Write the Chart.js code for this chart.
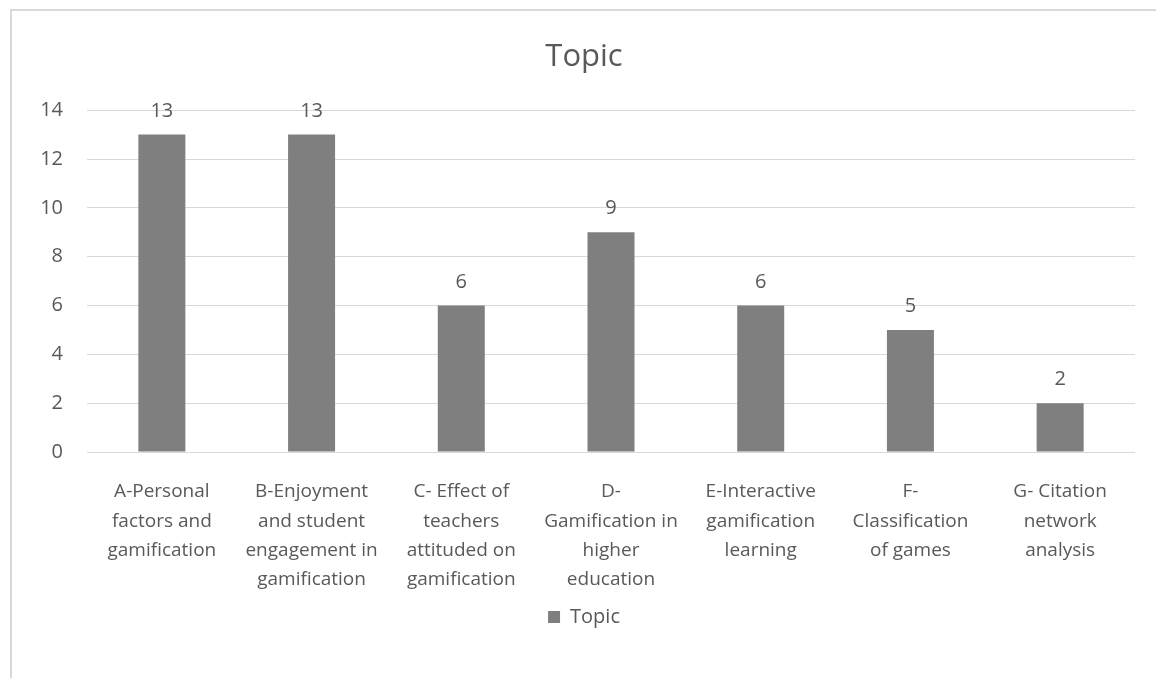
<!DOCTYPE HTML>
<html lang="en">
<head>
<meta charset="UTF-8">
<title>Topic</title>
<script src="https://cdn.jsdelivr.net/npm/chart.js@4.4.0/dist/chart.umd.min.js"></script>
<style>
  html, body { margin: 0; padding: 0; background: #fff; }
  #frame {
    position: absolute; left: 10px; top: 9px;
    width: 1146px; height: 669px;
    border-top: 2px solid #d9d9d9; border-left: 2px solid #d9d9d9;
    box-sizing: border-box;
  }
  #box { position: absolute; left: 0; top: 0; width: 1144px; height: 667px; }
</style>
</head>
<body>
<div id="frame">
  <div id="box"><canvas id="mychart"></canvas></div>
</div>

<script>
// topics and paper counts
var topics = [
    ['A-Personal', 'factors and', 'gamification'],
    ['B-Enjoyment', 'and student', 'engagement in', 'gamification'],
    ['C- Effect of', 'teachers', 'attituded on', 'gamification'],
    ['D-', 'Gamification in', 'higher', 'education'],
    ['E-Interactive', 'gamification', 'learning'],
    ['F-', 'Classification', 'of games'],
    ['G- Citation', 'network', 'analysis']
];
var counts = [13, 13, 6, 9, 6, 5, 2];
var yTicks = [0, 2, 4, 6, 8, 10, 12, 14];

var textColor = '#595959';
var fontFamily = '"Open Sans", Lato, sans-serif';

// value labels above each bar
var barValues = {
    id: 'barValues',
    afterDatasetsDraw: function(chart) {
        var ctx = chart.ctx;
        ctx.save();
        ctx.font = '20px ' + fontFamily;
        ctx.fillStyle = textColor;
        ctx.textAlign = 'center';
        ctx.textBaseline = 'alphabetic';
        chart.getDatasetMeta(0).data.forEach(function(bar, i) {
            ctx.fillText(String(chart.data.datasets[0].data[i]), bar.x, bar.y - 18);
        });
        ctx.restore();
    }
};

Chart.defaults.font.family = fontFamily;
Chart.defaults.color = textColor;

var chart = new Chart(document.getElementById('mychart'), {
    type: 'bar',
    data: {
        labels: topics,
        datasets: [{
            label: 'Topic',
            data: counts,
            backgroundColor: '#7f7f7f',
            categoryPercentage: 1,
            barPercentage: 0.314
        }]
    },
    options: {
        responsive: true,
        maintainAspectRatio: false,
        animation: false,
        layout: { padding: { top: 25, right: 0, left: 0, bottom: 41 } },
        plugins: {
            title: {
                display: true,
                text: 'Topic',
                color: textColor,
                font: { size: 31, weight: 'normal', lineHeight: 1.2 },
                padding: { top: 3, bottom: 34 }
            },
            legend: {
                position: 'bottom',
                labels: {
                    boxWidth: 12,
                    boxHeight: 12,
                    color: textColor,
                    font: { size: 20, lineHeight: 1.2 }
                }
            },
            tooltip: { enabled: false }
        },
        scales: {
            x: {
                grid: { display: false, drawTicks: false },
                border: { display: false },
                ticks: {
                    maxRotation: 0,
                    autoSkip: false,
                    padding: 25,
                    font: { size: 19, lineHeight: 1.55 }
                },
                afterFit: function(scale) { scale.height = 145; }
            },
            y: {
                min: 0,
                max: 14,
                grid: { color: '#d9d9d9', lineWidth: 1, drawTicks: false },
                border: { display: false },
                ticks: {
                    stepSize: 2,
                    padding: 24,
                    font: { size: 20 },
                    callback: function(v) { return yTicks.indexOf(v) >= 0 ? v : ''; }
                },
                afterFit: function(scale) { scale.width = 75; }
            },
            // empty right-hand gutter so the title stays centred on the whole chart
            gutter: {
                type: 'linear',
                position: 'right',
                grid: { display: false, drawTicks: false },
                border: { display: false },
                ticks: { display: false },
                afterFit: function(scale) { scale.width = 21; }
            }
        }
    },
    plugins: [barValues]
});
</script>
</body>
</html>
